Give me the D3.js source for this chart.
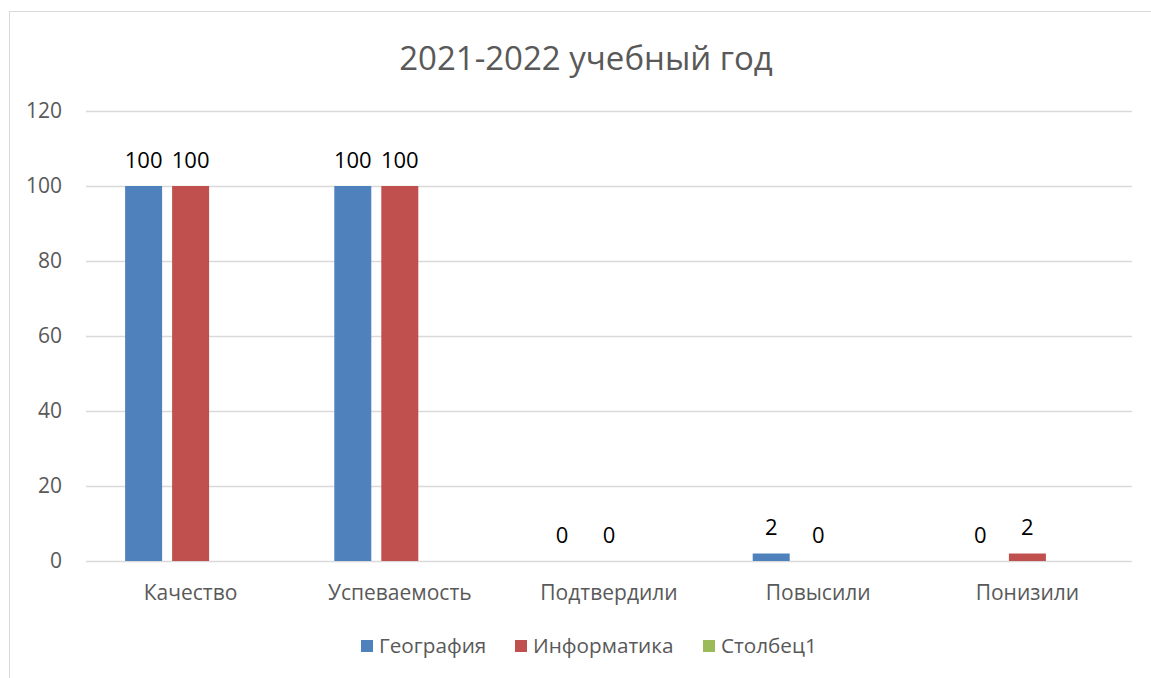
<!DOCTYPE html>
<html><head><meta charset="utf-8">
<script src="https://cdn.jsdelivr.net/npm/d3@7"></script>
<style>body{margin:0;background:#fff;} svg{display:block;}</style>
</head><body>
<svg id="c" width="1151" height="678"></svg>
<script>
const categories = ["Качество", "Успеваемость", "Подтвердили", "Повысили", "Понизили"];
const seriesNames = ["География", "Информатика", "Столбец1"];
const geografia = [100, 100, 0, 2, 0];
const informatika = [100, 100, 0, 0, 2];
const stolbec1 = [null, null, null, null, null];
const yTicks = [0, 20, 40, 60, 80, 100, 120];
const colors = ["#4F81BD", "#C0504D", "#9BBB59"];
const title = "2021-2022 учебный год";

(function () {
const series = [geografia, informatika, stolbec1];
const svg = d3.select("#c");
const font = "'Open Sans', 'Liberation Sans', Arial, sans-serif";

// chart border
svg.append("rect").attr("x", 9.5).attr("y", 11.5).attr("width", 1160).attr("height", 700)
  .attr("fill", "none").attr("stroke", "#D9D9D9").attr("stroke-width", 1);

const pLeft = 86, pRight = 1132, pTop = 111, pBottom = 561;
const x = d3.scaleBand().domain(categories).range([pLeft, pRight]).paddingInner(0).paddingOuter(0);
const y = d3.scaleLinear().domain([0, 120]).range([pBottom, pTop]);

// gridlines
svg.append("g").selectAll("line").data(yTicks).join("line")
  .attr("x1", pLeft).attr("x2", pRight)
  .attr("y1", d => y(d) + 0.5).attr("y2", d => y(d) + 0.5)
  .attr("stroke", "#D9D9D9").attr("stroke-width", 1.3);

// y axis labels
svg.append("g").selectAll("text").data(yTicks).join("text")
  .attr("x", 62).attr("y", d => y(d)).attr("dy", "0.35em")
  .attr("text-anchor", "end").attr("font-family", font).attr("font-size", 21)
  .attr("fill", "#595959").text(d => d);

const barW = 37, step = 47;
const groupW = step * (series.length - 1) + barW;
const xs = d3.scaleBand().domain(d3.range(series.length)).range([0, groupW]).paddingInner(10 / 47);

const g = svg.append("g");
series.forEach((s, si) => {
  categories.forEach((c, ci) => {
    const v = s[ci];
    if (v === null || v === undefined) return;
    const bx = x(c) + x.bandwidth() / 2 - groupW / 2 + xs(si);
    g.append("rect").attr("x", bx).attr("y", y(v)).attr("width", xs.bandwidth())
      .attr("height", y(0) - y(v)).attr("fill", colors[si]);
    g.append("text").attr("x", bx + xs.bandwidth() / 2).attr("y", y(v) - 26).attr("dy", "0.35em")
      .attr("text-anchor", "middle").attr("font-family", font).attr("font-size", 22)
      .attr("fill", "#000").text(v);
  });
});

// category labels
svg.append("g").selectAll("text").data(categories).join("text")
  .attr("x", d => x(d) + x.bandwidth() / 2).attr("y", 593).attr("dy", "0.35em")
  .attr("text-anchor", "middle").attr("font-family", font).attr("font-size", 21)
  .attr("fill", "#595959").text(d => d);

// title
svg.append("text").attr("x", 586).attr("y", 58).attr("dy", "0.35em")
  .attr("text-anchor", "middle").attr("font-family", font).attr("font-size", 33)
  .attr("fill", "#595959").text(title);

// legend
const legX = [361, 515, 703];
const lg = svg.append("g");
seriesNames.forEach((n, i) => {
  lg.append("rect").attr("x", legX[i]).attr("y", 640).attr("width", 12).attr("height", 12).attr("fill", colors[i]);
  lg.append("text").attr("x", legX[i] + 18).attr("y", 646).attr("dy", "0.35em")
    .attr("font-family", font).attr("font-size", 20.7).attr("fill", "#595959").text(n);
});
})();
</script>
</body></html>
